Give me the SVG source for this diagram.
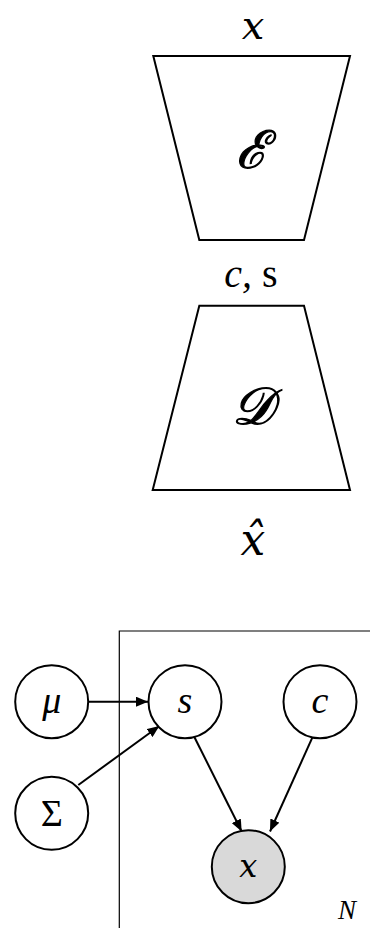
<svg xmlns="http://www.w3.org/2000/svg" width="370" height="928" viewBox="0 0 370 928">
<style>
.shape{fill:#fff;stroke:#000;stroke-width:2}
.node{fill:#fff;stroke:#000;stroke-width:2}
.obs{fill:#d9d9d9;stroke:#000;stroke-width:2}
.plate{fill:none;stroke:#000;stroke-width:1.2}
.edge{stroke:#000;stroke-width:2;fill:none;marker-end:url(#arr)}
.m{font-family:"Liberation Serif","DejaVu Serif",serif;font-style:italic;text-anchor:middle}
.dv{font-family:"DejaVu Serif","Liberation Serif",serif;font-style:italic;text-anchor:middle}
.big{font-size:40px}
.mid{font-size:40px}
.lab{font-size:52px;stroke:#000;stroke-width:1.2}
.nd{font-size:38px}
.ndx{font-size:32px}
</style>
<defs>
<marker id="arr" viewBox="0 0 12 10" refX="12" refY="5" markerWidth="12" markerHeight="10" markerUnits="userSpaceOnUse" orient="auto">
<path d="M0,0 L12,5 L0,10 z" fill="#000"/>
</marker>
</defs>
<g id="label-x"><text class="dv big" x="253" y="39">x</text></g>
<g id="encoder">
<polygon class="shape" points="153.3,56 350,56 304,240 199.3,240"/>
<text class="m lab" x="251" y="168">ℰ</text>
</g>
<g id="label-cs"><text class="m mid" x="251" y="287">c, <tspan style="font-style:normal">s</tspan></text></g>
<g id="decoder">
<polygon class="shape" points="199.3,305.7 304,305.7 350,490 152.7,490"/>
<text class="m lab" x="252" y="424">𝒟</text>
</g>
<g id="label-xhat"><text class="dv big" x="253" y="555" style="font-size:44px">x̂</text></g>
<g id="plate"><path class="plate" d="M119.3,940 V631 H375"/><text class="m" style="font-size:27px" x="347" y="919">N</text></g>
<g id="connectors">
<line class="edge" x1="88.5" y1="701.7" x2="148" y2="701.7"/>
<line class="edge" x1="78.3" y1="785" x2="159.3" y2="726"/>
<line class="edge" x1="191.7" y1="731.7" x2="241.7" y2="831.5"/>
<line class="edge" x1="315" y1="731.7" x2="270" y2="831.5"/>
</g>
<g id="node-mu"><circle class="node" cx="51.7" cy="701.7" r="36.5"/><text class="m nd" x="51.7" y="713">μ</text></g>
<g id="node-s"><circle class="node" cx="185" cy="701.7" r="36.5"/><text class="m nd" x="185" y="713">s</text></g>
<g id="node-c"><circle class="node" cx="320" cy="701.7" r="36.5"/><text class="m nd" x="320" y="713">c</text></g>
<g id="node-sigma"><circle class="node" cx="51.7" cy="813.3" r="36.5"/><text class="m nd" x="51.7" y="826" style="font-style:normal">Σ</text></g>
<g id="node-x"><circle class="obs" cx="248.3" cy="866.7" r="36.5"/><text class="dv ndx" x="248.3" y="877">x</text></g>
</svg>
